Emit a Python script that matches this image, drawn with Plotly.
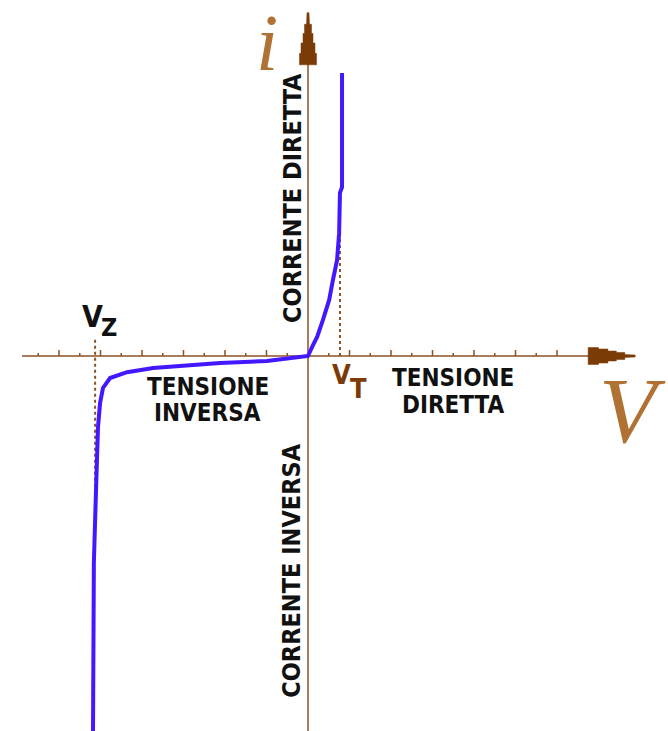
import plotly.graph_objects as go

# Diode characteristic, in axis units (one major tick = 1 unit)
v_curve = [-5.18, -5.16, -5.11, -5.06, -5.01, -4.94, -4.77, -4.36, -3.73, -2.92,
           -2.12, -0.99, -0.51, 0.0, 0.10, 0.22, 0.36, 0.51, 0.60, 0.70,
           0.75, 0.77, 0.82, 0.82]
i_curve = [-9.04, -4.99, -3.30, -1.71, -1.13, -0.77, -0.53, -0.39, -0.29, -0.22,
           -0.17, -0.12, -0.07, 0.0, 0.22, 0.46, 0.87, 1.35, 1.83, 2.31,
           2.96, 3.93, 4.07, 6.82]

# Reference voltages
v_zener = -5.13
v_threshold = 0.77
zener_mark = [0.39, -3.23]      # extent of the V_Z guide line
threshold_mark = [0.0, 2.96]    # extent of the V_T guide line

# Tick positions along the voltage axis
major_ticks = [-6, -5, -4, -3, -2, -1, 1, 2, 3, 4, 5, 6]
minor_ticks = [-6.5, -5.5, -4.5, -3.5, -2.5, -1.5, -0.5, 0.5, 1.5, 2.5, 3.5, 4.5, 5.5]

# Axis extents
x_range = [-308 / 41.5, 360 / 41.5]
y_range = [-375 / 41.5, 356 / 41.5]
h_axis = [-6.89, 6.8]
v_axis_top = 8.27

AXIS = "#8c5224"
ARROW = "#7a3b06"
LABEL = "#b07232"
CURVE = "#4318ff"
TEXT_FONT = "DejaVu Sans Condensed, Liberation Sans Narrow, Liberation Sans, Arial, sans-serif"
SERIF = "Liberation Serif, Times New Roman, serif"

fig = go.Figure()

# axes
fig.add_trace(go.Scatter(x=h_axis, y=[0, 0], mode="lines",
                         line=dict(color=AXIS, width=1.5), hoverinfo="skip"))
fig.add_trace(go.Scatter(x=[0, 0], y=[y_range[0], v_axis_top], mode="lines",
                         line=dict(color=AXIS, width=1.5), hoverinfo="skip"))

# tick marks (pointing up from the axis)
px = 1 / 41.5
tx, ty = [], []
for t in major_ticks:
    tx += [t, t, None]
    ty += [0, 6 * px, None]
for t in minor_ticks:
    tx += [t, t, None]
    ty += [0, 3 * px, None]
fig.add_trace(go.Scatter(x=tx, y=ty, mode="lines",
                         line=dict(color=AXIS, width=1.5), hoverinfo="skip"))

# stepped arrowheads: (fraction of length from base, half-width in px)
steps = [(0.0, 8.5), (0.22, 8.5), (0.22, 7.0), (0.42, 7.0), (0.42, 5.0),
         (0.60, 5.0), (0.60, 3.5), (0.78, 3.5), (0.78, 1.5), (1.0, 1.0)]


def arrow_path(base, tip, horizontal):
    pts = []
    for f, w in steps:
        pts.append((base + (tip - base) * f, w * px))
    for f, w in reversed(steps):
        pts.append((base + (tip - base) * f, -w * px))
    if horizontal:
        xs = [p[0] for p in pts]
        ys = [p[1] for p in pts]
    else:
        xs = [p[1] for p in pts]
        ys = [p[0] for p in pts]
    return xs + [xs[0]], ys + [ys[0]]


ax_, ay_ = arrow_path(h_axis[1] - 0.05, h_axis[1] + 45 * px, True)
fig.add_trace(go.Scatter(x=ax_, y=ay_, mode="lines", fill="toself", fillcolor=ARROW,
                         line=dict(color=ARROW, width=0.5), hoverinfo="skip"))
bx_, by_ = arrow_path(v_axis_top - 52 * px, v_axis_top, False)
fig.add_trace(go.Scatter(x=bx_, y=by_, mode="lines", fill="toself", fillcolor=ARROW,
                         line=dict(color=ARROW, width=0.5), hoverinfo="skip"))

# guide lines at V_Z and V_T
fig.add_trace(go.Scatter(x=[v_zener, v_zener], y=zener_mark, mode="lines",
                         line=dict(color=AXIS, width=2, dash="dot"), hoverinfo="skip"))
fig.add_trace(go.Scatter(x=[v_threshold, v_threshold], y=threshold_mark, mode="lines",
                         line=dict(color=AXIS, width=2, dash="dot"), hoverinfo="skip"))

# characteristic curve
fig.add_trace(go.Scatter(x=v_curve, y=i_curve, mode="lines",
                         line=dict(color=CURVE, width=4), hoverinfo="skip"))


def sans(size, color="#111111"):
    return dict(family=TEXT_FONT, size=size, color=color, weight="bold")


annotations = [
    dict(x=-0.36, y=3.81, text="CORRENTE DIRETTA", textangle=-90, font=sans(25)),
    dict(x=-0.39, y=-5.18, text="CORRENTE INVERSA", textangle=-90, font=sans(25)),
    dict(x=-2.41, y=-0.75, text="TENSIONE", font=sans(24)),
    dict(x=-2.41, y=-1.37, text="INVERSA", font=sans(24)),
    dict(x=3.49, y=-0.53, text="TENSIONE", font=sans(24)),
    dict(x=3.49, y=-1.17, text="DIRETTA", font=sans(24)),
    dict(x=(92 - 308) * px, y=(356 - 316) * px, text="V", font=sans(30)),
    dict(x=(108.5 - 308) * px, y=(356 - 327.5) * px, text="Z", font=sans(25)),
    dict(x=(341 - 308) * px, y=(356 - 374) * px, text="V", font=sans(27, ARROW)),
    dict(x=(358.5 - 308) * px, y=(356 - 388) * px, text="T", font=sans(27, ARROW)),
    dict(x=-1.0, y=7.55, text="<i>i</i>", font=dict(family=SERIF, size=80, color=LABEL)),
    dict(x=7.81, y=-1.30, text="<i>V</i>", font=dict(family=SERIF, size=94, color=LABEL)),
]
for a in annotations:
    a.update(showarrow=False, xref="x", yref="y", xanchor="center", yanchor="middle")

fig.update_layout(
    width=668, height=731,
    margin=dict(l=0, r=0, t=0, b=0),
    paper_bgcolor="white", plot_bgcolor="white",
    showlegend=False,
    xaxis=dict(range=x_range, visible=False, fixedrange=True),
    yaxis=dict(range=y_range, visible=False, fixedrange=True),
    annotations=annotations,
)

fig.write_html("out.html")
